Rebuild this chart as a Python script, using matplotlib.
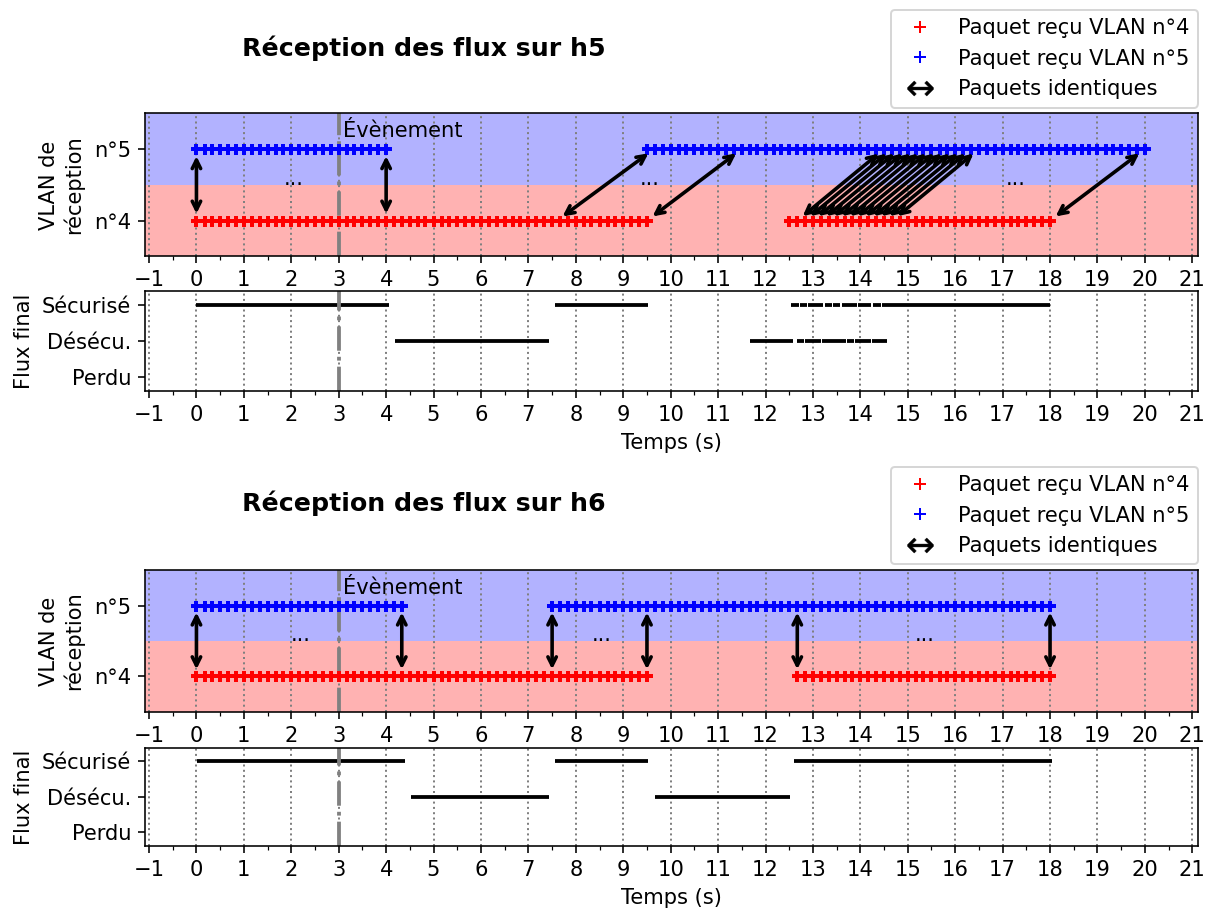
import numpy as np
import matplotlib.pyplot as plt
from matplotlib.lines import Line2D
from matplotlib.ticker import MultipleLocator

plt.rcParams['font.size'] = 10.5

# Temps de réception des paquets (s) sur h5
t_rouge_h5_a = [0, 0.17, 0.33, 0.5, 0.67, 0.83,
                1, 1.17, 1.33, 1.5, 1.67, 1.83,
                2, 2.17, 2.33, 2.5, 2.67, 2.83,
                3, 3.17, 3.33, 3.5, 3.67, 3.83,
                4, 4.17, 4.33, 4.5, 4.67, 4.83,
                5, 5.17, 5.33, 5.5, 5.67, 5.83,
                6, 6.17, 6.33, 6.5, 6.67, 6.83,
                7, 7.17, 7.33, 7.5, 7.67, 7.83,
                8, 8.17, 8.33, 8.5, 8.67, 8.83,
                9, 9.17, 9.33, 9.5]
t_rouge_h5_b = [12.5, 12.67, 12.83,
                13, 13.17, 13.33, 13.5, 13.67, 13.83,
                14, 14.17, 14.33, 14.5, 14.67, 14.83,
                15, 15.17, 15.33, 15.5, 15.67, 15.83,
                16, 16.17, 16.33, 16.5, 16.67, 16.83,
                17, 17.17, 17.33, 17.5, 17.67, 17.83,
                18]
t_bleu_h5_a = [0, 0.17, 0.33, 0.5, 0.67, 0.83,
               1, 1.17, 1.33, 1.5, 1.67, 1.83,
               2, 2.17, 2.33, 2.5, 2.67, 2.83,
               3, 3.17, 3.33, 3.5, 3.67, 3.83,
               4]
t_bleu_h5_b = [9.5, 9.67, 9.83,
               10, 10.17, 10.33, 10.5, 10.67, 10.83,
               11, 11.17, 11.33, 11.5, 11.67, 11.83,
               12, 12.17, 12.33, 12.5, 12.67, 12.83,
               13, 13.17, 13.33, 13.5, 13.67, 13.83,
               14, 14.17, 14.33, 14.5, 14.67, 14.83,
               15, 15.17, 15.33, 15.5, 15.67, 15.83,
               16, 16.17, 16.33, 16.5, 16.67, 16.83,
               17, 17.17, 17.33, 17.5, 17.67, 17.83,
               18, 18.17, 18.33, 18.5, 18.67, 18.83,
               19, 19.17, 19.33, 19.5, 19.67, 19.83,
               20]

# Temps de réception des paquets (s) sur h6
t_rouge_h6_a = list(t_rouge_h5_a)
t_rouge_h6_b = [12.67, 12.83,
                13, 13.17, 13.33, 13.5, 13.67, 13.83,
                14, 14.17, 14.33, 14.5, 14.67, 14.83,
                15, 15.17, 15.33, 15.5, 15.67, 15.83,
                16, 16.17, 16.33, 16.5, 16.67, 16.83,
                17, 17.17, 17.33, 17.5, 17.67, 17.83,
                18]
t_bleu_h6_a = [0, 0.17, 0.33, 0.5, 0.67, 0.83,
               1, 1.17, 1.33, 1.5, 1.67, 1.83,
               2, 2.17, 2.33, 2.5, 2.67, 2.83,
               3, 3.17, 3.33, 3.5, 3.67, 3.83,
               4, 4.17, 4.33]
t_bleu_h6_b = [7.5, 7.67, 7.83,
               8, 8.17, 8.33, 8.5, 8.67, 8.83,
               9, 9.17, 9.33, 9.5, 9.67, 9.83,
               10, 10.17, 10.33, 10.5, 10.67, 10.83,
               11, 11.17, 11.33, 11.5, 11.67, 11.83,
               12, 12.17, 12.33, 12.5, 12.67, 12.83,
               13, 13.17, 13.33, 13.5, 13.67, 13.83,
               14, 14.17, 14.33, 14.5, 14.67, 14.83,
               15, 15.17, 15.33, 15.5, 15.67, 15.83,
               16, 16.17, 16.33, 16.5, 16.67, 16.83,
               17, 17.17, 17.33, 17.5, 17.67, 17.83,
               18]

# Paquets identiques : (temps VLAN n°4, temps VLAN n°5)
fleches_h5 = [(0, 0), (4, 4), (7.6, 9.65), (9.5, 11.5),
              (12.67, 14.5), (12.83, 14.67), (13, 14.83), (13.17, 15),
              (13.33, 15.17), (13.5, 15.33), (13.67, 15.5), (13.83, 15.67),
              (14, 15.83), (14.17, 16), (14.33, 16.17), (14.5, 16.33),
              (14.67, 16.5), (18, 20)]
fleches_h6 = [(0, 0), (4.33, 4.33), (7.5, 7.5), (9.5, 9.5),
              (12.67, 12.67), (18, 18)]

# Positions des "..."
points_h5 = [2.05, 9.55, 17.28]
points_h6 = [2.2, 8.55, 15.35]

# Flux final : intervalles (début, fin) par état
secu_h5 = [(0, 4.05), (7.56, 9.53), (12.54, 12.70), (12.72, 12.87),
           (12.90, 13.22), (13.25, 13.40), (13.42, 13.57), (13.61, 13.75),
           (13.77, 13.93), (13.95, 14.22), (14.27, 14.43), (14.45, 18.0)]
desecu_h5 = [(4.18, 7.44), (11.67, 12.59), (12.66, 12.82), (12.84, 13.17),
             (13.19, 13.35), (13.37, 13.55), (13.56, 13.70), (13.71, 13.86),
             (13.88, 14.22), (14.25, 14.57)]
secu_h6 = [(0.02, 4.39), (7.56, 9.53), (12.61, 18.05)]
desecu_h6 = [(4.53, 7.44), (9.68, 12.51)]

t_evenement = 3

W, H = 1211, 909
fig = plt.figure(figsize=(W / 144, H / 144), dpi=144)


def axe(haut, bas):
    return fig.add_axes([145 / W, 1 - bas / H, 1053 / W, (bas - haut) / H])


def format_x(ax):
    ax.set_xlim(-1.085, 21.12)
    ax.xaxis.set_major_locator(MultipleLocator(1))
    ax.xaxis.set_minor_locator(MultipleLocator(0.5))
    ax.grid(True, axis='x', which='major', ls=':', color='gray', lw=1)
    ax.axvline(t_evenement, color='gray', ls='-.', lw=1.9, zorder=2)


def trace(ax_v, ax_f, titre, y_titre, rouges, bleus, fleches, points, secu, desecu):
    ax_v.axhspan(4.5, 6, color='blue', alpha=0.3, lw=0)
    ax_v.axhspan(3, 4.5, color='red', alpha=0.3, lw=0)
    for t in rouges:
        ax_v.plot(t, [4] * len(t), color='red', marker='+', ms=5.5, mew=2, lw=2, zorder=3)
    for t in bleus:
        ax_v.plot(t, [5] * len(t), color='blue', marker='+', ms=5.5, mew=2, lw=2, zorder=3)
    for tr, tb in fleches:
        ax_v.annotate('', xy=(tr, 4), xytext=(tb, 5),
                      arrowprops=dict(arrowstyle='<->', color='k', lw=1.8,
                                      shrinkA=3.5, shrinkB=3.5))
    for x in points:
        ax_v.text(x, 4.5, '...', ha='center', va='baseline')
    ax_v.text(t_evenement + 0.1, 5.25, 'Évènement', va='center')
    ax_v.set_ylim(3.5, 5.5)
    ax_v.set_yticks([4, 5])
    ax_v.set_yticklabels(['n°4', 'n°5'])
    ax_v.set_ylabel('VLAN de\nréception', labelpad=5)
    format_x(ax_v)

    poignees = [Line2D([], [], color='red', marker='+', ls='none', ms=6, mew=1),
                Line2D([], [], color='blue', marker='+', ls='none', ms=6, mew=1),
                Line2D([], [], color='k', marker=r'$\leftrightarrow$', ls='none', ms=13, mew=0.2)]
    ax_v.legend(poignees, ['Paquet reçu VLAN n°4', 'Paquet reçu VLAN n°5', 'Paquets identiques'],
                loc='lower right', bbox_to_anchor=(1, 1.04), borderaxespad=0)

    for a, b in secu:
        ax_f.hlines(2, a, b, color='k', lw=1.9)
    for a, b in desecu:
        ax_f.hlines(1, a, b, color='k', lw=1.9)
    ax_f.set_ylim(-0.38, 2.37)
    ax_f.set_yticks([0, 1, 2])
    ax_f.set_yticklabels(['Perdu', 'Désécu.', 'Sécurisé'])
    ax_f.set_ylabel('Flux final')
    ax_f.set_xlabel('Temps (s)')
    format_x(ax_f)

    fig.text(424 / W, 1 - y_titre / H, titre, ha='center', va='center',
             fontsize=12.6, fontweight='bold')


ax1 = axe(113.4, 256.4)
ax2 = axe(291.4, 391.2)
ax3 = axe(570.1, 711.7)
ax4 = axe(748, 846)

trace(ax1, ax2, 'Réception des flux sur h5', 48,
      [t_rouge_h5_a, t_rouge_h5_b], [t_bleu_h5_a, t_bleu_h5_b],
      fleches_h5, points_h5, secu_h5, desecu_h5)
trace(ax3, ax4, 'Réception des flux sur h6', 503,
      [t_rouge_h6_a, t_rouge_h6_b], [t_bleu_h6_a, t_bleu_h6_b],
      fleches_h6, points_h6, secu_h6, desecu_h6)

fig.savefig('out.png', dpi=144)
